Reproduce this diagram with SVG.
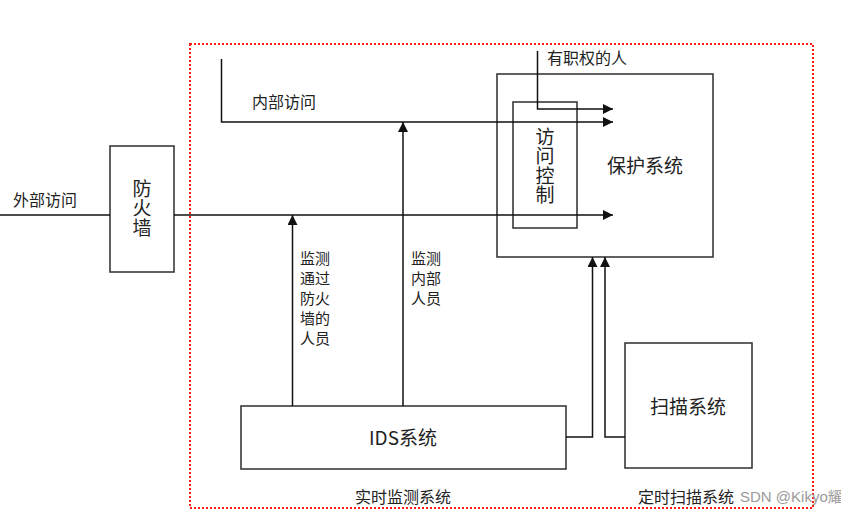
<svg xmlns="http://www.w3.org/2000/svg" width="841" height="514" viewBox="0 0 841 514">
<style>
.box{fill:#fff;stroke:#3a3a3a;stroke-width:1.6}
.ln{fill:none;stroke:#111;stroke-width:1.5}
.t{font-family:"Noto Sans CJK SC","Liberation Sans",sans-serif;fill:#222}
.s15{font-size:15px}
.s16{font-size:16px}
.s19{font-size:19px}
.v{writing-mode:vertical-rl;text-orientation:upright;letter-spacing:0.5px}
.wm{font-family:"Liberation Sans","Noto Sans CJK SC",sans-serif;font-size:15px;fill:#9a9a9a}
</style>
<defs>
<marker id="ah" viewBox="0 0 10 10" refX="10" refY="5" markerWidth="10" markerHeight="10" markerUnits="userSpaceOnUse" orient="auto">
<path d="M0,0 L10,5 L0,10 z" fill="#111"/>
</marker>
</defs>
<rect width="841" height="514" fill="#fff"/>
<rect x="190" y="44" width="623" height="464" fill="none" stroke="#ff1a1a" stroke-width="2" stroke-dasharray="2 2"/>

<g id="firewall">
<rect class="box" x="110" y="146" width="64" height="126"/>
<text class="t s19 v" x="142" y="179">防火墙</text>
</g>
<g id="protect">
<rect class="box" x="497" y="74" width="216" height="183"/>
<text class="t s19" x="645" y="173" text-anchor="middle">保护系统</text>
</g>
<g id="access">
<rect class="box" x="513" y="102" width="64" height="126" style="fill:none"/>
<text class="t s19 v" x="545" y="127">访问控制</text>
</g>
<g id="ids">
<rect class="box" x="241" y="406" width="325" height="63"/>
<text class="t s19" x="403" y="445" text-anchor="middle">IDS系统</text>
</g>
<g id="scan">
<rect class="box" x="625" y="343" width="127" height="125"/>
<text class="t s19" x="688" y="414" text-anchor="middle">扫描系统</text>
</g>

<g id="connectors">
<path class="ln" d="M0,215 H110"/>
<path class="ln" d="M174,215 H613" marker-end="url(#ah)"/>
<path class="ln" d="M221.5,59 V122 H613" marker-end="url(#ah)"/>
<path class="ln" d="M537.5,51 V109 H613" marker-end="url(#ah)"/>
<path class="ln" d="M292.5,406 V215" marker-end="url(#ah)"/>
<path class="ln" d="M403,406 V122" marker-end="url(#ah)"/>
<path class="ln" d="M566,437 H592.5 V257" marker-end="url(#ah)"/>
<path class="ln" d="M625,437 H605 V257" marker-end="url(#ah)"/>
</g>

<g id="labels">
<text class="t s16" x="13" y="206">外部访问</text>
<text class="t s16" x="252" y="108">内部访问</text>
<text class="t s16" x="547" y="64">有职权的人</text>
<text class="t s15" x="300" y="264">监测</text>
<text class="t s15" x="300" y="284">通过</text>
<text class="t s15" x="300" y="304">防火</text>
<text class="t s15" x="300" y="324">墙的</text>
<text class="t s15" x="300" y="344">人员</text>
<text class="t s15" x="411" y="264">监测</text>
<text class="t s15" x="411" y="284">内部</text>
<text class="t s15" x="411" y="304">人员</text>
<text class="t s16" x="403" y="503" text-anchor="middle">实时监测系统</text>
<text class="t s16" x="638" y="503">定时扫描系统</text>
<text class="wm" x="740" y="502">SDN @Kikyo耀</text>
</g>
</svg>
